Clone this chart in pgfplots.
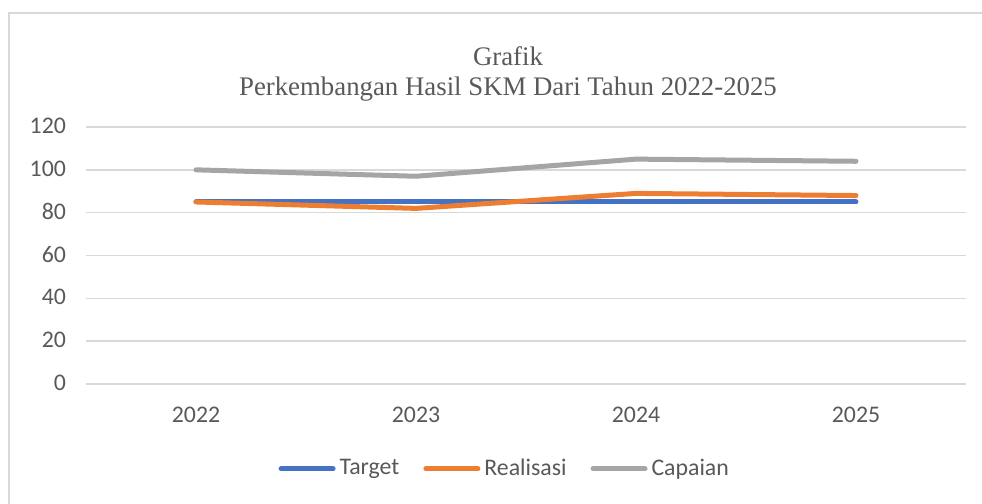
\documentclass[border=0pt]{standalone}
\usepackage{pgfplots}
\pgfplotsset{compat=1.18}
\usepackage{fontspec}
\setmainfont{Liberation Serif}
\newfontfamily\calibri{Carlito}

\definecolor{cTarget}{HTML}{4472C4}
\definecolor{cReal}{HTML}{ED7D31}
\definecolor{cCap}{HTML}{A5A5A5}
\definecolor{gridc}{HTML}{D9D9D9}
\definecolor{txt}{HTML}{595959}

\begin{document}
\begin{tikzpicture}
\useasboundingbox (0pt,0pt) rectangle (491pt,-252pt);
\draw[gridc,line width=1pt] (4.25pt,-252pt) -- (4.25pt,-6.25pt) -- (491pt,-6.25pt);

\begin{axis}[
    at={(43pt,-192pt)}, anchor=south west,
    scale only axis,
    width=440pt, height=128.5pt,
    xmin=-0.5, xmax=3.5,
    ymin=0, ymax=120,
    xtick={0,1,2,3},
    xticklabels={2022,2023,2024,2025},
    ytick={0,20,...,120},
    axis line style={draw=none},
    major tick length=0pt,
    ymajorgrids,
    grid style={gridc,line width=0.75pt},
    tick label style={font=\calibri\fontsize{11.9}{13}\selectfont,text=txt},
    /pgf/number format/assume math mode=true,
    yticklabel style={xshift=-6.5pt,yshift=0.5pt},
    xticklabel style={yshift=-8pt},
    legend style={at={(0.477,-0.33)},anchor=center,draw=none,
        legend columns=3,font=\calibri\fontsize{11.9}{13}\selectfont,text=txt,
        /tikz/every even column/.append style={column sep=10pt}},
    legend image code/.code={\draw[#1,line cap=round] (0pt,0pt) -- (26pt,0pt);},
    clip=false,
]
\addplot[cTarget,line width=2.5pt,line cap=round,line join=round] coordinates {(0,85) (1,85) (2,85) (3,85)};
\addplot[cReal,line width=2.5pt,line cap=round,line join=round] coordinates {(0,85) (1,82) (2,89) (3,88)};
\addplot[cCap,line width=2.5pt,line cap=round,line join=round] coordinates {(0,100) (1,97) (2,105) (3,104)};
\legend{Target,Realisasi,Capaian}
\end{axis}

\node[text=txt,font=\fontsize{13.4}{15}\selectfont,align=center] at (254pt,-37pt) {Grafik\\Perkembangan Hasil SKM Dari Tahun 2022-2025};
\end{tikzpicture}
\end{document}
